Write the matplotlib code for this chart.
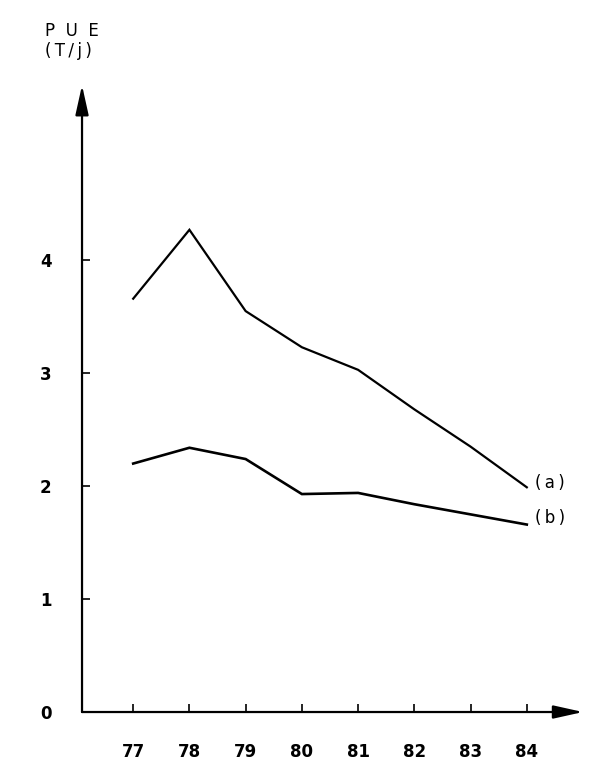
import matplotlib
matplotlib.use("Agg")
import matplotlib.pyplot as plt

years = [77, 78, 79, 80, 81, 82, 83, 84]
year_labels = ["77", "78", "79", "80", "81", "82", "83", "84"]
pue_a = [3.66, 4.27, 3.55, 3.23, 3.03, 2.68, 2.35, 1.99]
pue_b = [2.20, 2.34, 2.24, 1.93, 1.94, 1.84, 1.75, 1.66]
y_ticks = [0, 1, 2, 3, 4]


def main() -> None:
    fig = plt.figure(figsize=(6, 7.7), dpi=100)
    ax = fig.add_axes([0.1367, 0.0753, 0.835, 0.814])
    ax.set_xlim(76.09, 85.0)
    ax.set_ylim(0, 5.55)

    ax.plot(years, pue_a, color="black", lw=1.6, solid_joinstyle="miter")
    ax.plot(years, pue_b, color="black", lw=1.9, solid_joinstyle="miter")

    for side in ("top", "right", "left", "bottom"):
        ax.spines[side].set_visible(False)

    # axes drawn as arrows
    arrow = dict(arrowstyle="-|>,head_length=0.9,head_width=0.2", lw=1.6, color="black",
                 mutation_scale=20, shrinkA=0, shrinkB=0)
    ax.annotate("", xy=(0, 1), xytext=(0, 0), xycoords="axes fraction", arrowprops=arrow)
    ax.annotate("", xy=(1, 0), xytext=(0, 0), xycoords="axes fraction", arrowprops=arrow)

    ax.set_xticks(years)
    ax.set_xticklabels(year_labels)
    ax.set_yticks(y_ticks)
    ax.set_yticklabels([str(t) for t in y_ticks])
    ax.tick_params(direction="in", length=6, width=1.2, pad=22, labelsize=12)
    for lbl in ax.get_xticklabels() + ax.get_yticklabels():
        lbl.set_fontweight("bold")

    ts = "\u2009"
    ax.text(84.15, 2.03, f"({ts}a{ts})", fontsize=12, va="center", ha="left")
    ax.text(84.15, 1.72, f"({ts}b{ts})", fontsize=12, va="center", ha="left")

    fig.text(45 / 600, 1 - 22 / 770, f"P  U  E\n({ts}T{ts}/{ts}j{ts})", fontsize=12,
             va="top", ha="left", linespacing=1.15)

    fig.savefig("out.png", dpi=100)


if __name__ == "__main__":
    main()
